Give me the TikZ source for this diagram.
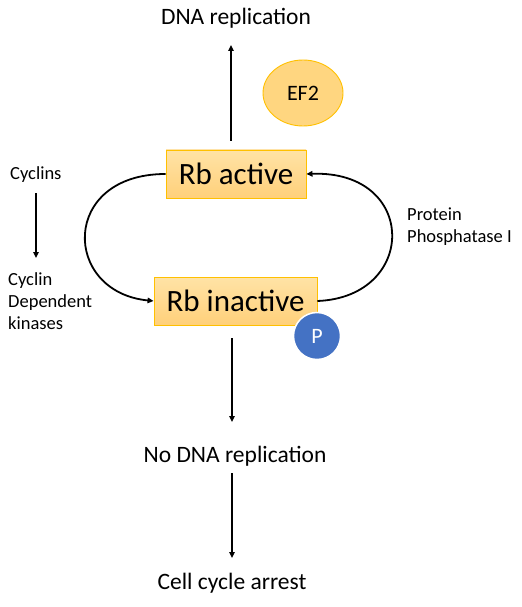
\documentclass[tikz,border=0pt]{standalone}
\usepackage{fontspec}
\setmainfont{Carlito}
\usetikzlibrary{arrows.meta,shapes.geometric}
\definecolor{boxtop}{HTML}{FFE3A6}
\definecolor{boxbot}{HTML}{FFD07A}
\definecolor{gold}{HTML}{FFC000}
\definecolor{efill}{HTML}{FFD680}
\definecolor{pblue}{HTML}{4472C4}
\tikzset{
  rbbox/.style={draw=gold, line width=0.9bp, top color=boxtop, bottom color=boxbot,
    minimum width=#1, minimum height=48bp, inner sep=0pt,
    font=\fontsize{31bp}{35bp}\selectfont},
  bigtxt/.style={anchor=base, inner sep=0pt, font=\fontsize{23.5bp}{28bp}\selectfont},
  smalltxt/.style={anchor=base west, inner sep=0pt, font=\fontsize{18.5bp}{22bp}\selectfont},
  arr/.style={line width=1.8bp, -{Triangle[length=6bp,width=5.5bp]}},
  curvearr/.style={line width=1.8bp, -{Triangle[length=6bp,width=5.5bp]}}
}
\begin{document}
\begin{tikzpicture}[x=1bp,y=-1bp]
\useasboundingbox (0,0) rectangle (522,607);
% boxes
\node[rbbox=140bp] (act) at (236,174) {Rb active};
\node[rbbox=163bp] (inact) at (235.5,301) {Rb inactive};
% EF2
\node[draw=gold, line width=0.9bp, fill=efill, ellipse, minimum width=80bp, minimum height=66bp, inner sep=0pt,
  font=\fontsize{22bp}{26bp}\selectfont] (ef) at (303,93) {EF2};
% P
\node[circle, draw=white, line width=1.5bp, fill=pblue, text=white, minimum size=47bp, inner sep=0pt,
  font=\fontsize{22bp}{26bp}\selectfont] (p) at (317,336) {P};
% texts
\node[bigtxt] (dna) at (236,25) {DNA replication};
\node[bigtxt] (nodna) at (235,462) {No DNA replication};
\node[bigtxt] (arrest) at (232,589) {Cell cycle arrest};
\node[smalltxt] (cyc) at (10,180) {Cyclins};
\node[smalltxt] (cdk1) at (8,285) {Cyclin};
\node[smalltxt] (cdk2) at (8,307) {Dependent};
\node[smalltxt] (cdk3) at (8,329) {kinases};
\node[smalltxt] (pp1) at (407,220) {Protein};
\node[smalltxt] (pp2) at (407,242) {Phosphatase I};
% coordinates
\coordinate (a1) at (231,141);
\coordinate (a2) at (231,45);
\coordinate (b1) at (232,338);
\coordinate (b2) at (232,422);
\coordinate (c1) at (232,473);
\coordinate (c2) at (232,558);
\coordinate (d1) at (36,193);
\coordinate (d2) at (36,258);
\draw[arr] (a1) -- (a2);
\draw[arr] (b1) -- (b2);
\draw[arr] (c1) -- (c2);
\draw[arr] (d1) -- (d2);
% cycle curves
\draw[curvearr] (act.west) .. controls (60,174) and (62,292) .. (inact.west);
\draw[curvearr] (inact.east) .. controls (418,297) and (418,170) .. (act.east);
\end{tikzpicture}
\end{document}
